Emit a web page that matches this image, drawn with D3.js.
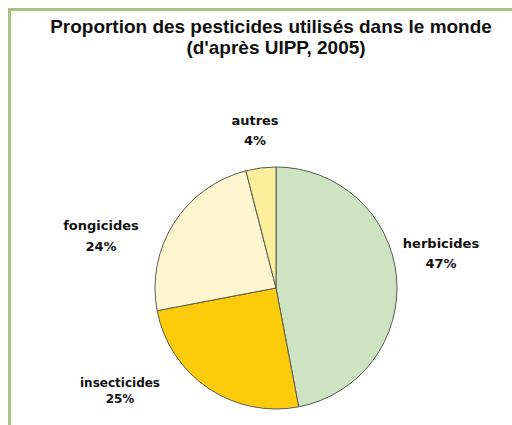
<!DOCTYPE html>
<html><head><meta charset="utf-8">
<script src="https://cdn.jsdelivr.net/npm/d3@7/dist/d3.min.js"></script>
<style>body{margin:0;background:#fff}svg{display:block}text{font-weight:bold;fill:#111}.t{font-family:"Liberation Sans",Arial,sans-serif}.l{font-family:"DejaVu Sans",sans-serif}</style>
</head><body><svg id="c" width="512" height="425"></svg>
<script>
const categories = ["herbicides", "insecticides", "fongicides", "autres"];
const values = [47, 25, 24, 4];
const colors = ["#cde3c2", "#fccb0b", "#fdf6cf", "#fbee9c"];
const titleLines = ["Proportion des pesticides utilisés dans le monde", "(d'après UIPP, 2005)"];

const svg = d3.select("#c");
svg.append("path").attr("d", "M9.5,425V9.5H512").attr("fill", "none").attr("stroke", "#a5c384").attr("stroke-width", 3);

const t1 = svg.append("text").attr("class", "t").attr("x", 271).attr("y", 33).attr("text-anchor", "middle").style("font-size", "15px").text(titleLines[0]);
const w = t1.node().getComputedTextLength();
const fs = 15 * 442 / w;
t1.style("font-size", fs + "px");
svg.append("text").attr("class", "t").attr("x", 276).attr("y", 54).attr("text-anchor", "middle").style("font-size", fs + "px").text(titleLines[1]);

const cx = 276, cy = 288, r = 121;
const pie = d3.pie().sort(null).value(d => d)(values);
const arc = d3.arc().innerRadius(0).outerRadius(r);
const g = svg.append("g").attr("transform", `translate(${cx},${cy})`);
g.selectAll("path").data(pie).join("path").attr("d", arc).attr("fill", (d, i) => colors[i]).attr("stroke", "#5a5a50").attr("stroke-width", 1);

const labelPos = [[441, 248], [120, 387], [101, 230], [255, 125]];
const labelSize = [13, 12, 13, 13];
const labelGap = [20, 16, 21, 20];
categories.forEach((c, i) => {
  const t = svg.append("text").attr("class", "l").attr("x", labelPos[i][0]).attr("y", labelPos[i][1]).attr("text-anchor", "middle").style("font-size", labelSize[i] + "px");
  t.append("tspan").attr("x", labelPos[i][0]).text(c);
  t.append("tspan").attr("x", labelPos[i][0]).attr("dy", labelGap[i]).text(values[i] + "%");
});
</script></body></html>
